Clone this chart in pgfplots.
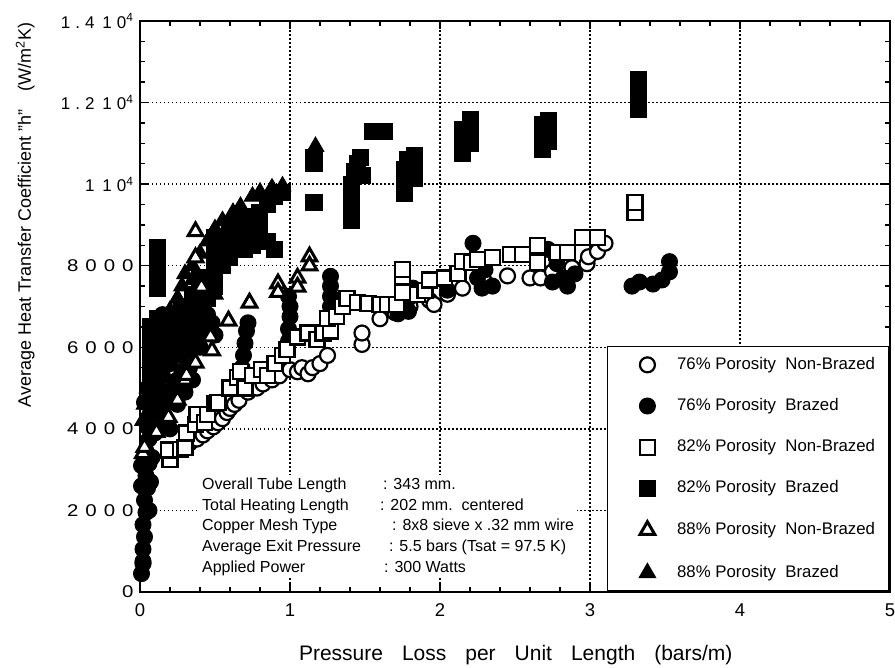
\documentclass[border=0pt]{standalone}
\usepackage{fontspec}
\setmainfont{Liberation Sans}
\newfontfamily\ytfont[LetterSpace=30]{Liberation Sans}
\newfontfamily\ytwide[FakeStretch=1.2]{Liberation Sans}
\newcommand{\wdig}[4]{{\ytwide #1\hspace{7pt}#2\hspace{7pt}#3\hspace{7pt}#4}}
\usepackage{pgfplots}
\pgfplotsset{compat=1.18}
\begin{document}
\begin{tikzpicture}
\begin{axis}[
  width=750pt, height=571pt, scale only axis,
  xmin=0, xmax=5, ymin=0, ymax=14000,
  clip=false, scaled y ticks=false, scaled x ticks=false,
  xtick={0,1,2,3,4,5}, xticklabels={0,1,2,3,4,5},
  ytick={0,2000,4000,6000,8000,10000,12000,14000},
  yticklabels={{\ytwide 0},{\wdig2000},{\wdig4000},{\wdig6000},{\wdig8000},{\ytfont 1\hspace{0.45em}10\textsuperscript{4}},{\ytfont 1.2\hspace{0.45em}10\textsuperscript{4}},{\ytfont 1.4\hspace{0.45em}10\textsuperscript{4}}},
  minor x tick num=4, minor y tick num=3,
  tick align=inside, major tick length=8pt, minor tick length=5pt,
  tick style={line width=1.4pt, black},
  grid=major, grid style={line width=1.5pt, dash pattern=on 1.5pt off 2.5pt, black},
  axis line style={line width=2pt},
  xticklabel style={font=\fontsize{18.5}{18.5}\selectfont, yshift=-8pt},
  yticklabel style={font=\fontsize{17}{17}\selectfont, xshift=-3pt},
  xlabel={Pressure\hspace{19pt}Loss\hspace{19pt}per\hspace{19pt}Unit\hspace{19pt}Length\hspace{19pt}(bars/m)},
  xlabel style={font=\fontsize{21}{21}\selectfont, at={(axis description cs:0.501,-0.111)}, anchor=center},
  ylabel={Average Heat Transfer Coefficient "h"\hspace{18pt}(W/m\textsuperscript{2}K)},
  ylabel style={font=\fontsize{18}{18}\selectfont, at={(axis description cs:-0.153,0.66)}, anchor=center},
  legend style={at={(1,0)}, anchor=south east, draw=black, line width=1.8pt, fill=white,
    font=\fontsize{16.8}{19}\selectfont, inner xsep=14pt, inner ysep=10.5pt,
    row sep=25.4pt, column sep=21.5pt,
    nodes={inner sep=0pt, text height=12pt, text depth=3.5pt}},
  legend cell align=left,
  legend image code/.code={\path[draw=none] (0pt,0pt) -- (10pt,0pt); \draw[#1] plot coordinates {(26pt,0pt)};},
]
\coordinate (SW) at (rel axis cs:0,0);
\coordinate (NE) at (rel axis cs:1,1);

\addlegendimage{mark=*, mark size=7.5pt, mark options={fill=white, draw=black, line width=2.2pt}}
\addlegendentry{76\%\ Porosity\ \ Non-Brazed}
\addlegendimage{mark=*, mark size=8pt, mark options={fill=black, draw=black, line width=1pt}}
\addlegendentry{76\%\ Porosity\ \ Brazed}
\addlegendimage{mark=square*, mark size=7.5pt, mark options={fill=white, draw=black, line width=2.2pt}}
\addlegendentry{82\%\ Porosity\ \ Non-Brazed}
\addlegendimage{mark=square*, mark size=8pt, mark options={fill=black, draw=black, line width=1pt}}
\addlegendentry{82\%\ Porosity\ \ Brazed}
\addlegendimage{mark=triangle*, mark size=8.5pt, mark options={fill=white, draw=black, line width=3pt}}
\addlegendentry{88\%\ Porosity\ \ Non-Brazed}
\addlegendimage{mark=triangle*, mark size=9.5pt, mark options={fill=black, draw=black, line width=1pt}}
\addlegendentry{88\%\ Porosity\ \ Brazed}

% 76% Non-Brazed (open circles)
\addplot[forget plot, only marks, mark=*, mark size=7.5pt, mark options={fill=white, draw=black, line width=2.2pt}] coordinates {
(0.02,700)
(0.33,3650)(0.38,3750)(0.42,3850)(0.45,3950)(0.49,4050)(0.52,4150)(0.55,4250)(0.58,4400)(0.6,4500)(0.63,4600)(0.66,4700)
(0.72,4900)(0.78,5000)(0.82,5100)(0.88,5200)(0.93,5300)(1.0,5450)(1.05,5400)(1.08,5500)(1.12,5350)(1.15,5500)(1.2,5600)(1.25,5800)
(1.48,6070)(1.48,6350)
(1.6,6700)(1.7,6850)(1.8,7000)(1.93,7150)(1.96,7050)(2.05,7300)(2.15,7450)(2.3,7600)(2.45,7750)(2.6,7700)(2.67,7700)(2.75,7850)(2.88,7950)(2.98,8050)(2.99,8220)(3.05,8350)(3.1,8550)
};

% 76% Brazed (filled circles)
\addplot[forget plot, only marks, mark=*, mark size=8pt, mark options={fill=black, draw=black, line width=1pt}] coordinates {
(0.01,450)(0.02,750)(0.02,1050)(0.03,1350)(0.02,1650)(0.04,1950)(0.03,2250)(0.05,2550)(0.04,2850)(0.06,3150)(0.04,3450)(0.06,3750)(0.05,4050)(0.07,4350)(0.06,2000)(0.07,2700)(0.08,3300)(0.01,2600)(0.01,3100)(0.03,4650)(0.09,4700)(0.05,5000)
(0.1,3900)(0.15,4200)(0.2,4000)(0.12,4500)(0.25,4600)(0.3,4900)(0.35,5200)
(0.15,4600)(0.22,5000)(0.28,5400)(0.25,5900)(0.33,5900)(0.4,6500)(0.45,6800)(0.2,6200)(0.15,6800)(0.25,6600)(0.35,6700)
(0.12,5000)(0.15,5300)(0.18,4800)(0.2,5600)(0.25,5200)(0.27,5800)(0.3,6100)(0.33,5500)(0.36,6200)(0.4,6000)(0.44,6400)(0.48,6600)(0.5,6300)
(0.67,5200)(0.68,5500)(0.69,5800)(0.7,6100)(0.71,6400)(0.72,6600)
(0.99,6150)(0.99,6450)(1.0,6750)(1.0,7000)(0.99,7250)
(1.27,7000)(1.27,7250)(1.27,7500)(1.27,7740)
(1.72,6820)(1.79,6880)(1.78,7150)(1.82,7450)
(2.05,7400)(2.22,8550)(2.25,7700)(2.3,7900)(2.28,7450)(2.35,7500)
(2.72,8400)(2.78,8050)(2.82,7700)(2.85,7500)(2.75,7600)(2.9,7800)
(3.28,7500)(3.33,7600)(3.42,7550)(3.48,7650)(3.53,7850)(3.53,8100)
};

% 82% Non-Brazed (open squares)
\addplot[forget plot, only marks, mark=square*, mark size=7.5pt, mark options={fill=white, draw=black, line width=2.2pt}] coordinates {
(0.2,3250)(0.19,3480)(0.27,3500)(0.3,3550)(0.31,3900)(0.37,4100)(0.38,4350)(0.43,4150)(0.45,4350)(0.5,4620)(0.52,4650)
(0.6,5000)(0.65,5250)(0.7,5000)(0.67,5400)(0.75,5300)(0.81,5450)(0.85,5300)(0.9,5600)(0.95,5800)(0.98,5950)
(1.05,6250)(1.12,6350)(1.18,6200)(1.22,6350)(1.27,6400)(1.25,6700)(1.31,6750)(1.35,7000)(1.38,7200)(1.45,7100)(1.52,7080)(1.6,7050)(1.65,7050)(1.71,7050)
(1.75,7350)(1.75,7730)(1.75,7900)(1.85,7300)(1.9,7400)(1.93,7650)(2.03,7700)(2.12,7800)(2.15,8100)(2.21,8070)(2.25,8150)(2.35,8200)(2.47,8280)(2.55,8280)
(2.65,8500)(2.65,8070)(2.78,8320)(2.85,8320)(2.95,8700)(3.05,8700)(3.3,9300)(3.3,9550)
};

% 82% Brazed (filled squares)
\addplot[forget plot, only marks, mark=square*, mark size=8pt, mark options={fill=black, draw=black, line width=1pt}] coordinates {
(0.12,7450)(0.12,7700)(0.12,7950)(0.12,8200)(0.12,8450)
(0.07,5300)(0.07,5600)(0.07,5900)(0.07,6200)(0.07,6500)(0.12,5500)(0.12,5800)(0.12,6100)(0.12,6400)(0.12,6700)
(0.18,5800)(0.18,6200)(0.18,6500)(0.22,6000)(0.22,6400)(0.22,6700)(0.28,6300)(0.28,6700)(0.28,7000)(0.33,6400)(0.33,6900)(0.35,7300)
(0.4,6900)(0.4,7300)(0.4,7700)(0.45,7200)(0.45,7600)(0.5,7500)(0.5,7900)(0.5,8300)(0.5,8700)(0.55,8000)(0.55,8400)(0.6,8200)(0.6,8600)(0.6,9000)
(0.7,8400)(0.7,8800)(0.7,9200)(0.75,8500)(0.78,8800)(0.8,9000)(0.8,9300)(0.85,8600)(0.85,9500)(0.9,9700)(0.95,9800)(0.9,8400)
(1.16,9540)(1.16,10500)(1.16,10650)
(1.41,9100)(1.41,9400)(1.41,9700)(1.41,10000)(1.43,10300)(1.45,10500)(1.47,10650)(1.48,10200)
(1.55,11280)(1.63,11300)
(1.76,9760)(1.76,10050)(1.76,10350)(1.78,10600)(1.83,10150)(1.83,10450)(1.83,10700)
(2.15,10750)(2.15,11050)(2.15,11350)(2.2,11000)(2.2,11300)(2.2,11580)
(2.68,10860)(2.68,11150)(2.68,11450)(2.72,11050)(2.72,11350)(2.72,11550)
(3.32,11820)(3.32,12070)(3.32,12320)(3.32,12560)
};

% 88% Brazed (filled triangles)
\addplot[forget plot, only marks, mark=triangle*, mark size=9.5pt, mark options={fill=black, draw=black, line width=1pt}] coordinates {
(0.02,4200)(0.03,4600)(0.05,5000)(0.08,5400)(0.1,5700)(0.13,6000)(0.15,6300)(0.18,6600)(0.2,6900)(0.25,7200)(0.28,7500)(0.3,7800)(0.35,7650)(0.35,8000)
(0.4,8300)(0.45,8600)(0.5,8900)(0.55,9100)(0.62,9300)(0.67,9450)(0.75,9700)(0.8,9800)(0.88,9900)(0.95,9950)(1.17,10920)
(0.1,4800)(0.2,5600)(0.3,6300)(0.4,6800)(0.5,7300)
};

% 88% Non-Brazed (open triangles)
\addplot[forget plot, only marks, mark=triangle*, mark size=8.5pt, mark options={fill=white, draw=black, line width=3pt}] coordinates {
(0.02,3400)(0.03,3550)(0.11,3920)(0.19,4290)(0.25,4710)(0.3,5200)(0.31,5320)(0.37,5620)(0.47,6260)(0.48,5920)(0.59,6650)(0.73,7090)
(0.92,7560)(0.92,7350)(1.05,7700)(1.05,7480)(1.13,8220)(1.13,8000)(0.37,8840)(0.37,8200)(0.41,7480)
};

\node[anchor=north west, fill=white, inner sep=3pt, align=left, font=\fontsize{16}{20.7}\selectfont] at (axis cs:0.393,2880) {%
\makebox[181pt][l]{Overall Tube Length}: 343 mm.\\
\makebox[178pt][l]{Total Heating Length}: 202 mm.\ \ centered\\
\makebox[190pt][l]{Copper Mesh Type}: 8x8 sieve x .32 mm wire\\
\makebox[187pt][l]{Average Exit Pressure}: 5.5 bars (Tsat = 97.5 K)\\
\makebox[182pt][l]{Applied Power}: 300 Watts};
\end{axis}
\pgfresetboundingbox
\path ([shift={(-140pt,-76pt)}]SW) rectangle ([shift={(5pt,21pt)}]NE);
\end{tikzpicture}
\end{document}
